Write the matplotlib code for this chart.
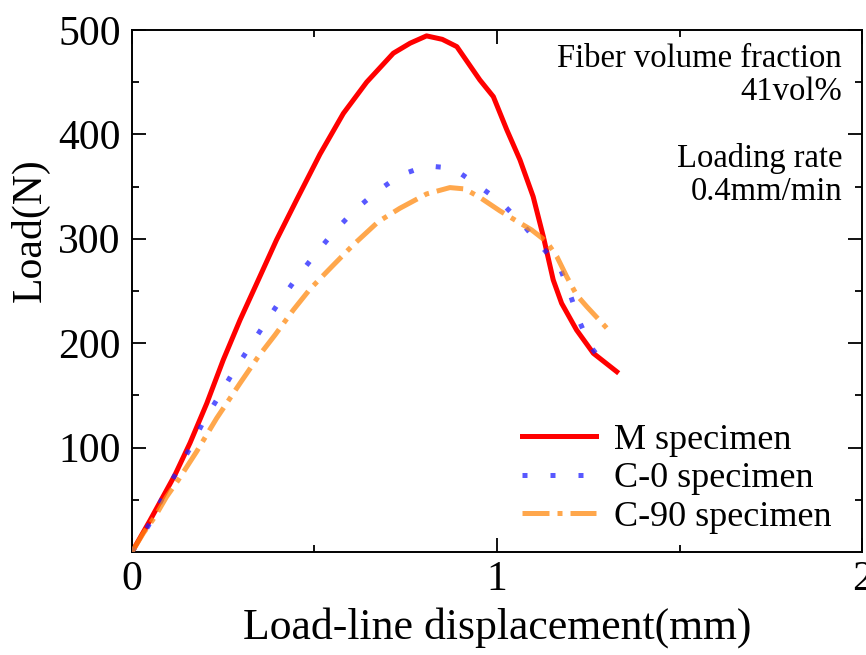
import matplotlib.pyplot as plt

# values
x_m = [0, 0.049, 0.118, 0.159, 0.205, 0.250, 0.296, 0.342, 0.396, 0.451, 0.515,
       0.579, 0.643, 0.716, 0.762, 0.807, 0.850, 0.890, 0.953, 0.990, 1.027,
       1.063, 1.099, 1.127, 1.154, 1.177, 1.218, 1.264, 1.328]
y_m = [0, 30, 74, 104.4, 142.4, 183.9, 222.2, 257.4, 298.9, 337.2, 381,
       420, 450, 477.7, 487.3, 494.3, 491, 484.0, 452.1, 436.1, 404.2,
       375.5, 340.4, 302.0, 260.6, 238.2, 212.6, 190.3, 172.7]

x_c0 = [0, 0.045, 0.081, 0.118, 0.159, 0.191, 0.232, 0.271, 0.314, 0.357, 0.401,
        0.447, 0.497, 0.550, 0.608, 0.670, 0.736, 0.807, 0.879, 0.942, 1.008,
        1.068, 1.120, 1.173, 1.200, 1.225, 1.255, 1.303]
y_c0 = [0, 25.2, 49.8, 73.8, 99.3, 121.7, 145.6, 168.6, 191.9, 214.9, 238.2,
        260.6, 282.9, 305.3, 326.6, 345.1, 361.1, 369.8, 367.6, 352.5, 335.8,
        314.9, 293.4, 271.8, 247.1, 221.6, 197.3, 176.0]

x_c90 = [0, 0.031, 0.063, 0.095, 0.127, 0.177, 0.232, 0.296, 0.346, 0.392, 0.442,
         0.488, 0.552, 0.606, 0.675, 0.734, 0.807, 0.871, 0.912, 0.953, 1.008,
         1.049, 1.095, 1.136, 1.164, 1.191, 1.218, 1.246, 1.301]
y_c90 = [0, 17.9, 33.8, 53.0, 69.0, 96.1, 128.1, 161.6, 187.1, 207.9, 231.8,
         251.9, 274.9, 294.1, 316.4, 329.2, 342.9, 349.0, 347.7, 339.6, 326.7,
         318.0, 308.4, 297.2, 282.9, 263.7, 246.2, 235.0, 214.3]

plt.rcParams['font.family'] = ['Liberation Serif', 'DejaVu Serif']

fig = plt.figure(figsize=(8.66, 6.55), dpi=100)
ax = fig.add_axes([0.1524, 0.1573, 0.843, 0.797])

ax.plot(x_m, y_m, color='#ff0000', lw=3.6, label='M specimen', zorder=2)
ax.plot(x_c0, y_c0, color='#2020ff', alpha=0.75, lw=3.6, linestyle=(0, (1, 4.6)),
        label='C-0 specimen', zorder=3)
ax.plot(x_c90, y_c90, color='#ff8a10', alpha=0.75, lw=3.6,
        linestyle=(0, (5.4, 1.6, 1.0, 1.6)), label='C-90 specimen', zorder=3)

ax.set_xlim(0, 2)
ax.set_ylim(0, 500)
ax.set_xticks([0, 1, 2])
ax.set_xticks([0.5, 1.5], minor=True)
ax.set_yticks([100, 200, 300, 400, 500])
ax.set_yticks([50, 150, 250, 350, 450], minor=True)
ax.tick_params(which='both', direction='in', top=True, right=True, width=1.3,
               labelsize=30)
ax.tick_params(axis='x', pad=6)
ax.tick_params(axis='y', pad=8)
ax.tick_params(which='major', length=10)
ax.tick_params(which='minor', length=5)
for s in ax.spines.values():
    s.set_linewidth(1.4)

ax.set_xlabel('Load-line displacement(mm)', fontsize=31.5, labelpad=6)
ax.set_ylabel('Load(N)', fontsize=30)
ax.yaxis.set_label_coords(-0.112, 0.617)

ax.text(0.9726, 0.929, 'Fiber volume fraction', transform=ax.transAxes,
        ha='right', va='baseline', fontsize=23.5)
ax.text(0.9726, 0.866, '41vol%', transform=ax.transAxes,
        ha='right', va='baseline', fontsize=23.5)
ax.text(0.9726, 0.7375, 'Loading rate', transform=ax.transAxes,
        ha='right', va='baseline', fontsize=23.5)
ax.text(0.9726, 0.674, '0.4mm/min', transform=ax.transAxes,
        ha='right', va='baseline', fontsize=23.5)

ax.legend(loc='lower right', frameon=False, fontsize=26, handlelength=2.05,
          handletextpad=0.5, labelspacing=0.15, borderaxespad=0.1,
          bbox_to_anchor=(0.983, 0.0))

fig.savefig('out.png', dpi=100)
